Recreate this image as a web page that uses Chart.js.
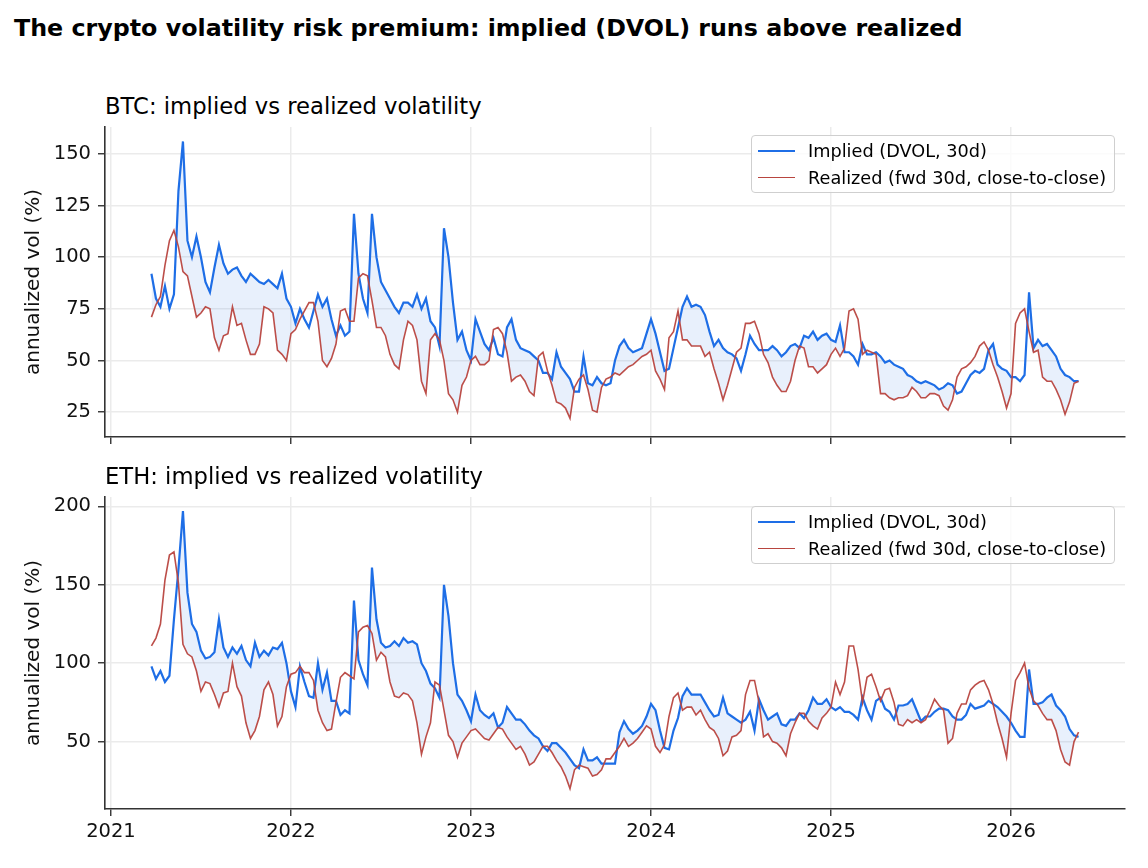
<!DOCTYPE html>
<html>
<head>
<meta charset="utf-8">
<title>Crypto volatility risk premium</title>
<script src="https://cdn.jsdelivr.net/npm/chart.js@4.4.1/dist/chart.umd.min.js"></script>
<style>
  body { margin: 0; background: #fff; font-family: "DejaVu Sans", sans-serif; color: #000; }
  #page { position: relative; width: 1148px; height: 868px; overflow: hidden; background: #fff; }
  .suptitle { position: absolute; left: 14px; top: 17px; font-size: 23.75px; font-weight: bold; line-height: 1; white-space: nowrap; }
  .subtitle { position: absolute; left: 105px; font-size: 22.7px; line-height: 1; white-space: nowrap; }
  .panel { position: absolute; left: 0; }
  .legend { position: absolute; left: 751px; width: 364px; height: 58px; box-sizing: border-box;
            border: 1px solid #cfcfcf; border-radius: 4px; background: rgba(255,255,255,0.8); font-size: 17.7px; }
  .legend .row { position: absolute; left: 0; height: 22px; line-height: 22px; white-space: nowrap; }
  .legend .swatch { position: absolute; left: 6px; top: 10px; width: 37px; }
  .legend .label { position: absolute; left: 56px; top: 0; }
</style>
</head>
<body>
<div id="page">
  <div class="suptitle">The crypto volatility risk premium: implied (DVOL) runs above realized</div>

  <div class="subtitle" style="top:95px">BTC: implied vs realized volatility</div>
  <canvas id="btcChart" class="panel" style="top:117px" width="1148" height="350"></canvas>
  <div class="legend" style="top:135px">
    <div class="row" style="top:4px"><div class="swatch" style="border-top:2.4px solid #1e6ee6"></div><span class="label">Implied (DVOL, 30d)</span></div>
    <div class="row" style="top:31px"><div class="swatch" style="border-top:1.8px solid #b8453f"></div><span class="label">Realized (fwd 30d, close-to-close)</span></div>
  </div>

  <div class="subtitle" style="top:465px">ETH: implied vs realized volatility</div>
  <canvas id="ethChart" class="panel" style="top:487px" width="1148" height="381"></canvas>
  <div class="legend" style="top:506px">
    <div class="row" style="top:4px"><div class="swatch" style="border-top:2.4px solid #1e6ee6"></div><span class="label">Implied (DVOL, 30d)</span></div>
    <div class="row" style="top:31px"><div class="swatch" style="border-top:1.8px solid #b8453f"></div><span class="label">Realized (fwd 30d, close-to-close)</span></div>
  </div>
</div>

<script>
// dates: one point every 0.025 year starting 2021.225
const startYear = 2021.225;
const stepYear = 0.025;
const yearTicks = [2021, 2022, 2023, 2024, 2025, 2026];
const btcTicks = [25, 50, 75, 100, 125, 150];
const ethTicks = [50, 100, 150, 200];

// BTC implied vol (DVOL, 30d), %
const btcImplied = [
  92, 80, 76, 86, 75, 82, 132, 156, 108, 100,
  110, 100, 88, 83, 95, 106, 97, 92, 94, 95,
  91, 88, 92, 90, 88, 87, 89, 87, 85, 92,
  80, 76, 68, 75, 70, 66, 74, 82, 76, 80,
  70, 62, 67, 62, 64, 121, 92, 80, 73, 121,
  100, 88, 84, 80, 76, 73, 78, 78, 76, 82,
  75, 80, 69, 66, 57, 114, 100, 78, 60, 64,
  55, 50, 70, 64, 58, 55, 61, 53, 52, 66,
  70, 60, 56, 55, 54, 52, 50, 44, 44, 41,
  54, 47, 44, 41, 35, 35, 52, 39, 38, 42,
  39, 38, 39, 50, 57, 60, 56, 54, 55, 56,
  63, 70, 63, 54, 45, 46, 56, 66, 76, 81,
  76, 77, 76, 72, 64, 57, 60, 56, 54, 53,
  51, 45, 53, 62, 58, 55, 55, 55, 57, 55,
  52, 54, 57, 58, 56, 62, 61, 64, 60, 62,
  63, 60, 59, 67, 54, 54, 52, 48, 58, 53,
  53, 54, 52, 49, 50, 48, 47, 46, 43, 42,
  40, 39, 40, 39, 38, 36, 37, 39, 38, 34,
  35, 39, 43, 45, 44, 46, 55, 58, 48, 46,
  45, 42, 42, 40, 43, 83, 56, 60, 57, 58,
  55, 52, 46, 43, 42, 40, 40
];

// BTC realized vol (forward 30d, close-to-close), %
const btcRealized = [
  71, 77, 81, 96, 108, 113, 105, 93, 91, 81,
  71, 73, 76, 75, 61, 55, 62, 63, 76, 67,
  68, 60, 53, 53, 58, 76, 75, 73, 55, 53,
  50, 63, 65, 70, 74, 78, 78, 69, 50, 47,
  51, 58, 74, 75, 69, 69, 90, 92, 91, 79,
  66, 66, 62, 53, 48, 46, 60, 69, 67, 60,
  40, 34, 60, 63, 60, 50, 34, 31, 25, 38,
  42, 50, 52, 48, 48, 50, 65, 66, 63, 54,
  40, 42, 43, 40, 35, 33, 52, 54, 45, 38,
  30, 29, 27, 22, 37, 41, 43, 36, 26, 25,
  37, 41, 42, 44, 43, 45, 47, 48, 50, 52,
  53, 55, 45, 41, 36, 61, 64, 74, 60, 60,
  57, 57, 57, 52, 54, 46, 39, 31, 38, 46,
  54, 56, 68, 68, 69, 63, 53, 49, 42, 38,
  35, 35, 40, 50, 57, 56, 47, 47, 44, 46,
  48, 53, 56, 52, 56, 74, 75, 70, 53, 55,
  54, 53, 34, 34, 32, 31, 32, 32, 33, 37,
  35, 32, 32, 34, 34, 33, 28, 26, 31, 42,
  46, 47, 49, 52, 57, 59, 55, 48, 42, 35,
  27, 34, 68, 73, 75, 64, 54, 55, 42, 40,
  40, 36, 31, 24, 30, 39, 40
];

// ETH implied vol (DVOL, 30d), %
const ethImplied = [
  98, 90, 95, 88, 92, 128, 160, 197, 145, 125,
  120, 108, 103, 104, 107, 128, 110, 104, 110, 106,
  111, 102, 98, 113, 104, 108, 105, 110, 109, 113,
  100, 82, 72, 98, 88, 79, 78, 100, 83, 94,
  76, 76, 67, 70, 68, 140, 102, 93, 86, 161,
  128, 113, 110, 111, 114, 111, 116, 113, 114, 112,
  100, 95, 87, 84, 78, 150, 130, 100, 80, 76,
  70, 63, 80, 70, 67, 65, 68, 59, 62, 72,
  68, 64, 64, 61, 57, 54, 52, 47, 44, 49,
  49, 46, 43, 39, 35, 33, 45, 38, 38, 40,
  36, 36, 36, 36, 56, 63, 58, 55, 57, 60,
  66, 74, 70, 57, 46, 45, 57, 65, 79, 84,
  80, 80, 80, 75, 70, 66, 67, 78, 68, 66,
  64, 62, 64, 69, 57, 77, 70, 64, 66, 68,
  61, 60, 64, 64, 68, 65, 70, 78, 74, 74,
  77, 72, 70, 72, 69, 69, 67, 64, 78, 70,
  64, 76, 78, 71, 69, 64, 73, 73, 74, 77,
  70, 63, 66, 66, 69, 71, 71, 70, 66, 64,
  64, 67, 74, 71, 72, 73, 76, 74, 72, 69,
  66, 62, 57, 53, 53, 96, 74, 74, 75, 78,
  80, 73, 70, 66, 58, 54, 53
];

// ETH realized vol (forward 30d, close-to-close), %
const ethRealized = [
  111, 116, 125, 153, 169, 171, 151, 112, 106, 104,
  95, 82, 88, 87, 80, 72, 81, 82, 100, 85,
  79, 62, 52, 57, 66, 83, 88, 80, 60, 66,
  85, 93, 94, 98, 94, 94, 89, 70, 62, 57,
  58, 75, 91, 94, 92, 90, 120, 123, 124, 119,
  102, 107, 104, 88, 79, 78, 81, 80, 76, 62,
  42, 53, 62, 88, 86, 70, 54, 50, 40, 49,
  53, 57, 58, 55, 52, 51, 55, 59, 58, 53,
  49, 45, 47, 42, 35, 37, 42, 47, 47, 43,
  38, 34, 28, 20, 32, 35, 34, 33, 28, 29,
  32, 39, 39, 43, 47, 52, 47, 49, 52, 56,
  60, 58, 47, 43, 48, 66, 78, 81, 70, 72,
  72, 67, 70, 64, 59, 57, 52, 41, 44, 53,
  54, 57, 80, 89, 89, 75, 53, 55, 50, 49,
  46, 41, 55, 62, 68, 68, 63, 60, 58, 65,
  68, 72, 88, 80, 88, 111, 111, 96, 75, 91,
  93, 85, 76, 83, 84, 75, 61, 60, 64, 62,
  64, 62, 64, 70, 77, 73, 70, 49, 52, 68,
  74, 74, 83, 86, 88, 89, 83, 74, 62, 52,
  40, 68, 89, 94, 100, 84, 76, 73, 68, 64,
  64, 57, 45, 37, 35, 50, 56
];

Chart.defaults.font.family = '"DejaVu Sans", sans-serif';
Chart.defaults.color = '#111';

function toPoints(values) {
  return values.map((v, i) => ({ x: startYear + i * stepYear, y: v }));
}

function makePanel(id, implied, realized, yTicks, yMin, yMax, showYears, xAxisHeight) {
  let ctx = document.getElementById(id).getContext('2d');
  return new Chart(ctx, {
    type: 'line',
    data: {
      datasets: [{
        label: 'Implied (DVOL, 30d)',
        data: toPoints(implied),
        borderColor: '#1e6ee6',
        borderWidth: 2.2,
        pointRadius: 0,
        tension: 0,
        order: 1,
        fill: { target: 1, above: 'rgba(30,110,230,0.1)', below: 'rgba(0,0,0,0)' }
      }, {
        label: 'Realized (fwd 30d, close-to-close)',
        data: toPoints(realized),
        borderColor: 'rgba(184,69,63,0.95)',
        borderWidth: 1.6,
        pointRadius: 0,
        tension: 0,
        order: 0,
        fill: false
      }]
    },
    options: {
      responsive: false,
      animation: false,
      events: [],
      layout: { padding: { top: 10, right: 23, left: 0, bottom: 0 } },
      plugins: { legend: { display: false }, tooltip: { enabled: false } },
      scales: {
        x: {
          type: 'linear',
          min: 2020.967,
          max: 2026.633,
          afterBuildTicks: s => { s.ticks = yearTicks.map(v => ({ value: v })); },
          afterFit: s => { s.height = xAxisHeight; s.paddingLeft = 0; s.paddingRight = 0; },
          ticks: {
            font: { size: 19.5 },
            color: '#111',
            padding: 4,
            maxRotation: 0,
            callback: v => showYears ? String(v) : ''
          },
          grid: { color: '#ebebeb', lineWidth: 1.5, tickColor: '#333', tickLength: 7, tickWidth: 1.4 },
          border: { color: '#333', width: 1.6 }
        },
        y: {
          min: yMin,
          max: yMax,
          afterBuildTicks: s => { s.ticks = yTicks.map(v => ({ value: v })); },
          afterFit: s => { s.width = 105; s.paddingTop = 0; s.paddingBottom = 0; },
          ticks: { font: { size: 19.5 }, color: '#111', padding: 7 },
          grid: { color: '#ebebeb', lineWidth: 1.5, tickColor: '#333', tickLength: 7, tickWidth: 1.4 },
          border: { color: '#333', width: 1.6 },
          title: {
            display: true,
            text: 'annualized vol (%)',
            font: { size: 20 },
            color: '#111',
            padding: { top: 22, bottom: 0 }
          }
        }
      }
    }
  });
}

makePanel('btcChart', btcImplied, btcRealized, btcTicks, 13, 163, false, 30);
makePanel('ethChart', ethImplied, ethRealized, ethTicks, 7, 206, true, 59);
</script>
</body>
</html>
